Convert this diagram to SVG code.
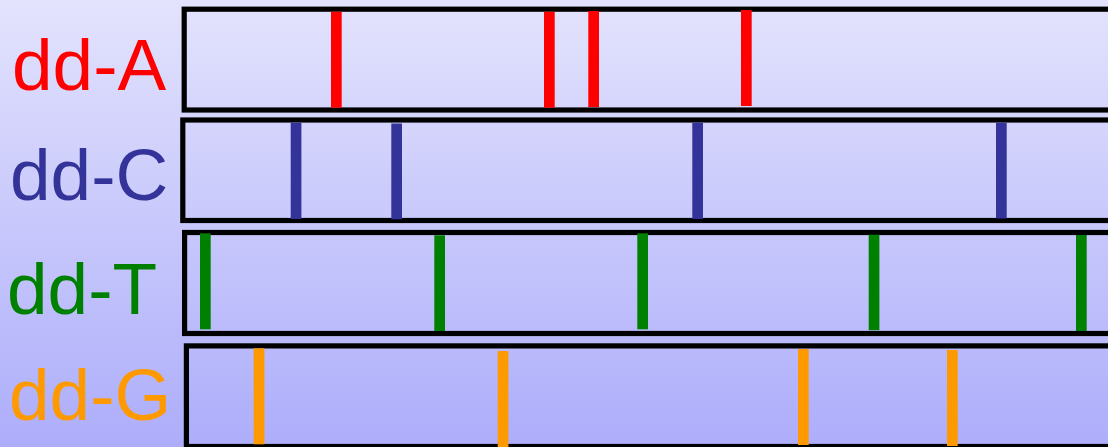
<svg xmlns="http://www.w3.org/2000/svg" width="1108" height="447" viewBox="0 0 1108 447">
<defs>
<linearGradient id="bg" x1="0" y1="0" x2="0" y2="1">
<stop offset="0" stop-color="#e3e3fd"/>
<stop offset="1" stop-color="#adadfb"/>
</linearGradient>
<style>
.box{fill:none;stroke:#000;stroke-width:5.2}
.lbl{font-family:"Liberation Sans",Arial,sans-serif;font-size:73px}
.a{fill:#ff0000}.c{fill:#333399}.t{fill:#008000}.g{fill:#ff9900}
</style>
</defs>
<rect width="1108" height="447" fill="url(#bg)"/>
<g id="row-A">
<text class="lbl a" x="12" y="90">dd-A</text>
<rect class="box" x="184.2" y="9.2" width="940" height="100.8"/>
<rect class="a" x="331" y="11.7" width="10.7" height="96"/>
<rect class="a" x="544" y="11.7" width="10.7" height="96"/>
<rect class="a" x="588.3" y="11" width="10.7" height="96"/>
<rect class="a" x="741" y="10" width="10.7" height="96"/>
</g>
<g id="row-C">
<text class="lbl c" x="10" y="200">dd-C</text>
<rect class="box" x="182.8" y="120" width="940" height="100.5"/>
<rect class="c" x="290.7" y="122.7" width="10.7" height="96.3"/>
<rect class="c" x="391.3" y="123.5" width="10.7" height="95.8"/>
<rect class="c" x="692.3" y="122.7" width="10.7" height="96.3"/>
<rect class="c" x="996" y="122.7" width="10.7" height="95.8"/>
</g>
<g id="row-T">
<text class="lbl t" x="7" y="314">dd-T</text>
<rect class="box" x="184.6" y="232.5" width="940" height="101"/>
<rect class="t" x="200" y="233.3" width="10.7" height="96"/>
<rect class="t" x="434.3" y="235.3" width="10.7" height="95.7"/>
<rect class="t" x="637.3" y="233.3" width="10.7" height="96"/>
<rect class="t" x="868.7" y="234.7" width="10.7" height="95.5"/>
<rect class="t" x="1076" y="235" width="10.7" height="96"/>
</g>
<g id="row-G">
<text class="lbl g" x="9" y="420">dd-G</text>
<rect class="box" x="186.4" y="345.9" width="940" height="100.6"/>
<rect class="g" x="253.7" y="348.3" width="10.7" height="96"/>
<rect class="g" x="497.7" y="351" width="10.7" height="96"/>
<rect class="g" x="798" y="349" width="10.7" height="96"/>
<rect class="g" x="947" y="350" width="10.7" height="96"/>
</g>
<g id="connectors"/>
</svg>
